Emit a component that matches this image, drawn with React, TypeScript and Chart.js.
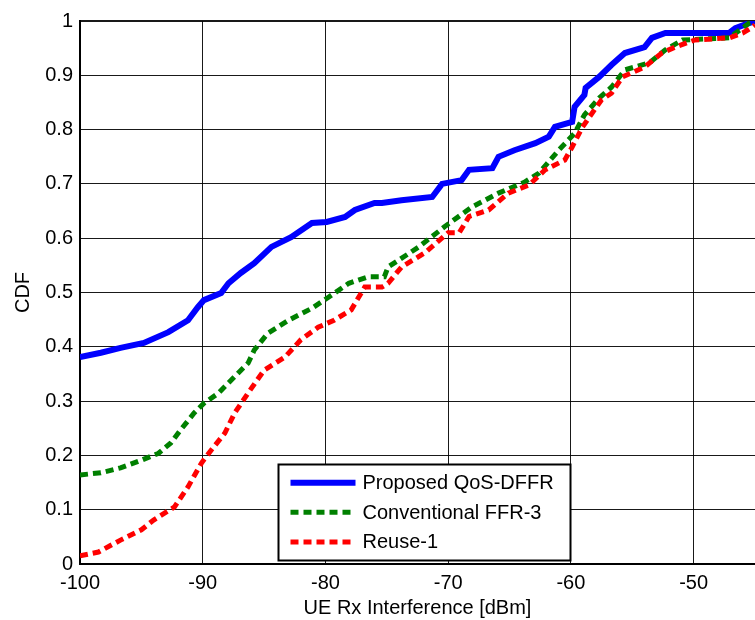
import React, { useEffect, useRef } from "react";
import { Chart, registerables } from "chart.js";

Chart.register(...registerables);

const seriesLabels = ["Proposed QoS-DFFR", "Conventional FFR-3", "Reuse-1"];
const seriesColors = ["#0000ff", "#008000", "#ff0000"];
const xTickValues = [-100, -90, -80, -70, -60, -50];
const yTickValues = [0, 0.1, 0.2, 0.3, 0.4, 0.5, 0.6, 0.7, 0.8, 0.9, 1];
const xTitle = "UE Rx Interference [dBm]";
const yTitle = "CDF";

const qosX = [-100, -98.3, -96.7, -94.8, -92.8, -91.2, -90.4, -89.9, -88.5, -87.9, -86.9, -85.8, -84.4, -82.8, -81.1, -79.9, -78.4, -77.6, -76.0, -75.4, -73.8, -71.3, -70.5, -68.9, -68.3, -66.4, -65.9, -64.6, -62.9, -61.8, -61.3, -59.9, -59.7, -58.9, -58.8, -57.7, -56.7, -55.6, -54.0, -53.4, -52.3, -47.1, -46.6, -45.5, -45.0];
const qosY = [0.381, 0.389, 0.398, 0.407, 0.427, 0.449, 0.473, 0.486, 0.499, 0.517, 0.536, 0.554, 0.584, 0.602, 0.628, 0.63, 0.639, 0.652, 0.665, 0.665, 0.67, 0.676, 0.7, 0.707, 0.726, 0.729, 0.75, 0.762, 0.775, 0.787, 0.805, 0.814, 0.842, 0.864, 0.877, 0.897, 0.919, 0.941, 0.952, 0.969, 0.978, 0.978, 0.987, 0.996, 1.0];

const ffrX = [-100, -98.3, -96.7, -95.0, -93.6, -92.6, -91.8, -90.7, -89.9, -88.7, -87.4, -86.3, -85.8, -84.7, -83.0, -81.1, -79.9, -78.1, -76.5, -75.2, -74.9, -73.2, -72.4, -70.3, -68.1, -65.9, -63.8, -62.6, -61.0, -59.7, -58.9, -57.7, -56.7, -55.6, -53.6, -52.3, -50.9, -47.1, -45.5, -45.0];
const ffrY = [0.164, 0.168, 0.177, 0.191, 0.204, 0.223, 0.247, 0.278, 0.296, 0.315, 0.345, 0.37, 0.394, 0.425, 0.449, 0.471, 0.489, 0.517, 0.529, 0.529, 0.547, 0.572, 0.584, 0.621, 0.657, 0.683, 0.703, 0.72, 0.762, 0.793, 0.827, 0.858, 0.878, 0.91, 0.923, 0.947, 0.965, 0.969, 0.996, 1.0];

const reuseX = [-100, -98.5, -96.7, -95.0, -94.0, -92.3, -91.2, -90.1, -89.3, -88.2, -87.4, -86.3, -85.0, -83.3, -82.0, -80.6, -79.3, -77.9, -76.8, -75.4, -74.9, -73.8, -71.9, -70.0, -69.1, -68.3, -66.7, -65.1, -63.4, -62.1, -60.5, -59.9, -59.1, -58.5, -57.5, -56.7, -55.8, -54.0, -52.6, -51.5, -49.9, -47.1, -46.0, -45.2, -45.0];
const reuseY = [0.015, 0.022, 0.044, 0.063, 0.081, 0.105, 0.142, 0.186, 0.21, 0.241, 0.278, 0.315, 0.357, 0.381, 0.413, 0.436, 0.449, 0.468, 0.51, 0.51, 0.517, 0.547, 0.573, 0.61, 0.61, 0.64, 0.652, 0.683, 0.698, 0.726, 0.744, 0.768, 0.803, 0.823, 0.855, 0.867, 0.897, 0.915, 0.941, 0.952, 0.965, 0.969, 0.978, 0.989, 0.993];

const FONT = "'Liberation Sans', Arial, Helvetica, sans-serif";

function toPoints(xs: number[], ys: number[]) {
  return xs.map((x, i) => ({ x, y: ys[i] }));
}

const legendPlugin = {
  id: "boxLegend",
  afterDatasetsDraw(chart: any) {
    const { ctx } = chart;
    const xs = chart.scales.x;
    const ys = chart.scales.y;
    const left = Math.round(xs.getPixelForValue(-83.85)) + 0.5;
    const right = Math.round(xs.getPixelForValue(-60.0)) - 0.5;
    const top = Math.round(ys.getPixelForValue(0.185)) + 0.5;
    const bottom = Math.round(ys.getPixelForValue(0.006)) - 0.5;
    ctx.save();
    ctx.fillStyle = "#fff";
    ctx.fillRect(left, top, right - left, bottom - top);
    ctx.lineWidth = 2;
    ctx.strokeStyle = "#000";
    ctx.strokeRect(left, top, right - left, bottom - top);
    const rowH = (bottom - top) / 3.25;
    chart.data.datasets.forEach((ds: any, i: number) => {
      const y = top + rowH * (0.62 + i);
      ctx.beginPath();
      ctx.setLineDash(ds.borderDash || []);
      ctx.lineWidth = ds.borderWidth;
      ctx.strokeStyle = ds.borderColor;
      ctx.lineCap = "butt";
      ctx.moveTo(left + 12, y);
      ctx.lineTo(left + 77, y);
      ctx.stroke();
      ctx.setLineDash([]);
      ctx.fillStyle = "#000";
      ctx.font = `20px ${FONT}`;
      ctx.textBaseline = "middle";
      ctx.textAlign = "left";
      ctx.fillText(ds.label, left + 84, y + 1);
    });
    ctx.restore();
  },
};

export default function App() {
  const canvasRef = useRef<HTMLCanvasElement | null>(null);

  useEffect(() => {
    if (!canvasRef.current) return;
    const chart = new Chart(canvasRef.current, {
      type: "line",
      data: {
        datasets: [
          {
            label: seriesLabels[0],
            data: toPoints(qosX, qosY),
            borderColor: seriesColors[0],
            backgroundColor: seriesColors[0],
            borderWidth: 6,
            pointRadius: 0,
            tension: 0,
            order: 3,
          },
          {
            label: seriesLabels[1],
            data: toPoints(ffrX, ffrY),
            borderColor: seriesColors[1],
            backgroundColor: seriesColors[1],
            borderWidth: 5,
            borderDash: [8, 5],
            pointRadius: 0,
            tension: 0,
            order: 2,
          },
          {
            label: seriesLabels[2],
            data: toPoints(reuseX, reuseY),
            borderColor: seriesColors[2],
            backgroundColor: seriesColors[2],
            borderWidth: 5,
            borderDash: [8, 5],
            pointRadius: 0,
            tension: 0,
            order: 1,
          },
        ],
      },
      options: {
        animation: false,
        responsive: false,
        maintainAspectRatio: false,
        layout: { padding: { top: 21, right: 0, left: 0, bottom: 0 } },
        plugins: {
          legend: { display: false },
          tooltip: { enabled: false },
        },
        scales: {
          x: {
            type: "linear",
            min: -100,
            max: -45,
            afterFit: (s: any) => {
              s.height = 56;
            },
            afterBuildTicks: (s: any) => {
              s.ticks = xTickValues.map((v) => ({ value: v }));
            },
            ticks: {
              includeBounds: false,
              color: "#000",
              font: { family: FONT, size: 20 },
              padding: 7,
              maxRotation: 0,
              callback: (v: any) => String(v),
            },
            grid: {
              color: "rgba(0,0,0,0.9)",
              lineWidth: 1,
              drawTicks: false,
            },
            border: { display: true, color: "#000", width: 2 },
            title: {
              display: true,
              text: xTitle,
              color: "#000",
              font: { family: FONT, size: 20 },
              padding: { top: 0, bottom: 0 },
            },
          },
          y: {
            type: "linear",
            min: 0,
            max: 1,
            afterFit: (s: any) => {
              s.width = 80;
            },
            afterBuildTicks: (s: any) => {
              s.ticks = yTickValues.map((v) => ({ value: v }));
            },
            ticks: {
              color: "#000",
              font: { family: FONT, size: 20 },
              padding: 7,
              callback: (v: any) => String(+Number(v).toFixed(1)),
            },
            grid: {
              color: "rgba(0,0,0,0.9)",
              lineWidth: (c: any) => (c.tick && c.tick.value === 1 ? 2 : 1),
              drawTicks: false,
            },
            border: { display: true, color: "#000", width: 2 },
            title: {
              display: true,
              text: yTitle,
              color: "#000",
              font: { family: FONT, size: 20 },
              padding: { top: 11, bottom: 0 },
            },
          },
        },
      },
      plugins: [legendPlugin],
    });
    return () => chart.destroy();
  }, []);

  return (
    <div style={{ position: "absolute", left: 0, top: 0, width: 755, height: 620, background: "#fff" }}>
      <canvas ref={canvasRef} width={755} height={620} style={{ width: 755, height: 620, display: "block" }} />
    </div>
  );
}
